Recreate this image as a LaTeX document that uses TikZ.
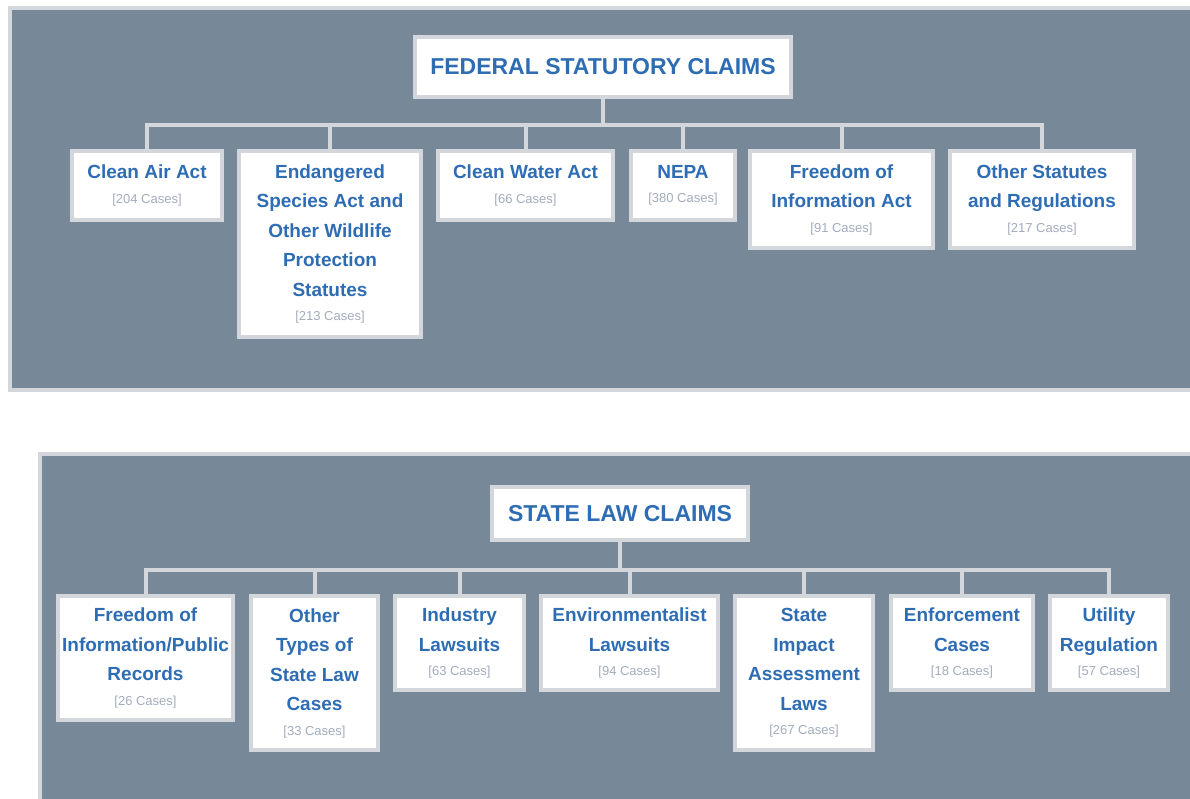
\documentclass[tikz,border=0pt]{standalone}
\usepackage{fontspec}
\setmainfont{Liberation Sans}
\usetikzlibrary{positioning}
\definecolor{panelgray}{HTML}{778899}
\definecolor{rimgray}{HTML}{D3D7DB}
\definecolor{claimblue}{HTML}{2E6DB4}
\definecolor{casegray}{HTML}{A3ADBD}
\newcommand{\ncases}[1]{\\[-5pt]{\fontsize{13}{30}\mdseries\color{casegray}[#1 Cases]}}

\tikzset{
	claim/.style={draw=rimgray, line width=4pt, fill=white, anchor=north, align=center,
		inner sep=0pt, text=claimblue, font=\bfseries\fontsize{19}{29.5}\selectfont},
	head/.style={claim, font=\bfseries\fontsize{23}{28}\selectfont},
	link/.style={draw=rimgray, line width=4pt, line cap=rect},
	panel/.style={draw=rimgray, line width=4pt, fill=panelgray},
}

\begin{document}
\begin{tikzpicture}[x=1pt, y=-1pt]
		\useasboundingbox (0,0) rectangle (1190,799);
		
		%%%%% PANELS %%%%%
		\draw[panel] (10,8) rectangle (1200,390);
		\draw[panel] (40,454) rectangle (1200,812);
		
		%%%%% FEDERAL %%%%%
		\node[head, minimum width=376pt, minimum height=60pt] (fed) at (603,35) {FEDERAL STATUTORY CLAIMS};
		
		\node[claim, minimum width=150pt, minimum height=69pt] (caa) at (147,149) {Clean Air Act\ncases{204}};
		\node[claim, minimum width=182pt, minimum height=186pt] (esa) at (330,149) {Endangered\\Species Act and\\Other Wildlife\\Protection\\Statutes\ncases{213}};
		\node[claim, minimum width=175pt, minimum height=69pt] (cwa) at (525.5,149) {Clean Water Act\ncases{66}};
		\node[claim, minimum width=104pt, minimum height=69pt] (nepa) at (683,149) {NEPA\ncases{380}};
		\node[claim, minimum width=183pt, minimum height=97pt] (foia) at (841.5,149) {Freedom of\\Information Act\ncases{91}};
		\node[claim, minimum width=184pt, minimum height=97pt] (oth) at (1042,149) {Other Statutes\\and Regulations\ncases{217}};
		
		\coordinate (fedbar) at (603,125);
		\draw[link] (fed) -- (fedbar);
		\draw[link] (fedbar -| caa) -- (fedbar -| oth);
		\foreach \kid in {caa,esa,cwa,nepa,foia,oth}
			\draw[link] (fedbar -| \kid.north) -- (\kid.north);
		
		%%%%% STATE %%%%%
		\node[head, minimum width=256pt, minimum height=53pt] (state) at (620,485) {STATE LAW CLAIMS};
		
		\node[claim, minimum width=175pt, minimum height=124pt] (fopr) at (145.5,594) {Freedom of\\Information/Public\\Records\ncases{26}};
		\node[claim, minimum width=127pt, minimum height=154pt] (otl) at (314.5,594) {Other\\Types of\\State Law\\Cases\ncases{33}};
		\node[claim, minimum width=129pt, minimum height=94pt] (ind) at (459.5,594) {Industry\\Lawsuits\ncases{63}};
		\node[claim, minimum width=177pt, minimum height=94pt] (env) at (629.5,594) {Environmentalist\\Lawsuits\ncases{94}};
		\node[claim, minimum width=138pt, minimum height=154pt] (sia) at (804,594) {State\\Impact\\Assessment\\Laws\ncases{267}};
		\node[claim, minimum width=142pt, minimum height=94pt] (enf) at (962,594) {Enforcement\\Cases\ncases{18}};
		\node[claim, minimum width=118pt, minimum height=94pt] (util) at (1109,594) {Utility\\Regulation\ncases{57}};
		
		\coordinate (statebar) at (620,570);
		\draw[link] (state) -- (statebar);
		\draw[link] (statebar -| fopr) -- (statebar -| util);
		\foreach \kid in {fopr,otl,ind,env,sia,enf,util}
			\draw[link] (statebar -| \kid.north) -- (\kid.north);
		
		%%%%% END %%%%%
\end{tikzpicture}
\end{document}
